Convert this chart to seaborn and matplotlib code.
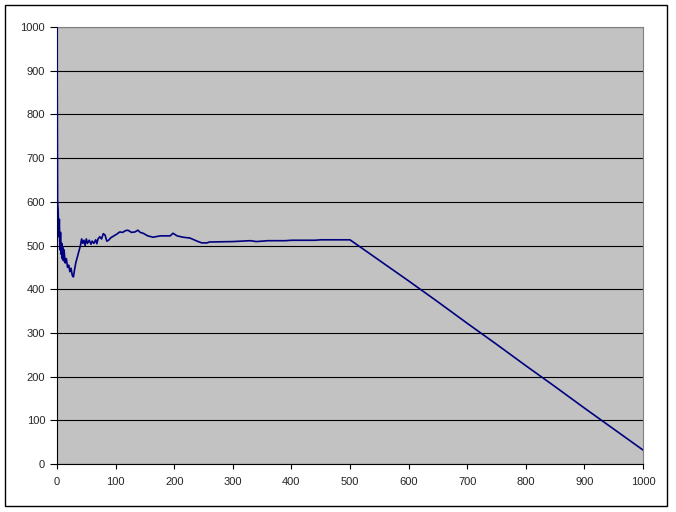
import pandas as pd
import seaborn as sns
import matplotlib.pyplot as plt
from matplotlib.patches import Rectangle

# values
x_vals = [0, 1, 2, 3, 4, 5, 6, 7, 8, 9, 10, 11, 12, 14, 16, 18, 20, 22, 24, 26,
          28, 30, 32, 34, 36, 38, 40, 42, 44, 46, 48, 50, 52, 55, 58, 60, 63, 66,
          68, 70, 73, 76, 79, 82, 85, 88, 92, 97, 102, 107, 112, 117, 121, 127,
          133, 138, 142, 147, 155, 164, 176, 193, 198, 205, 215, 227, 239, 247,
          256, 260, 300, 330, 340, 360, 390, 400, 440, 450, 485, 500,
          550, 600, 650, 700, 750, 800, 850, 900, 950, 1000]
y_vals = [1000, 600, 580, 520, 560, 490, 530, 480, 505, 470, 495, 465, 490, 460,
          470, 450, 455, 440, 448, 432, 428, 445, 460, 470, 480, 490, 500, 515,
          505, 512, 500, 515, 505, 512, 503, 510, 505, 513, 504, 515, 520, 515,
          527, 524, 510, 512, 518, 522, 526, 531, 530, 534, 535, 530, 531, 535,
          530, 528, 522, 519, 522, 522, 528, 522, 519, 517, 510, 506, 506, 508,
          509, 511, 509, 511, 511, 512, 512, 513, 513, 513,
          466, 419, 371, 322, 274, 225, 177, 128, 80, 32]

df = pd.DataFrame({"x": x_vals, "y": y_vals})

sns.set_style("white")
plt.rcParams["font.family"] = ["Liberation Sans", "DejaVu Sans"]

fig = plt.figure(figsize=(6.76, 5.12), dpi=100)
ax = fig.add_axes([57 / 676, 1 - 464 / 512, 586 / 676, 437 / 512])
ax.set_facecolor("#c2c2c2")

sns.lineplot(data=df, x="x", y="y", ax=ax, color="#000080", linewidth=1.2, zorder=3)

ax.set_xlim(0, 1000)
ax.set_ylim(0, 1000)
ax.set_xticks(range(0, 1001, 100))
ax.set_yticks(range(0, 1001, 100))
ax.set_xlabel("")
ax.set_ylabel("")
ax.yaxis.grid(True, color="black", linewidth=0.8)
ax.xaxis.grid(False)
ax.set_axisbelow(True)

ax.tick_params(axis="x", direction="out", length=3.5, width=0.8, pad=6,
               labelsize=8, bottom=True, color="black")
ax.tick_params(axis="y", direction="out", length=5, width=0.8, pad=3.5,
               labelsize=8, left=True, color="black")

for side in ["left", "bottom"]:
    ax.spines[side].set_color("black")
    ax.spines[side].set_linewidth(0.8)
for side in ["top", "right"]:
    ax.spines[side].set_color("#808080")
    ax.spines[side].set_linewidth(0.8)

# outer chart border
fig.patches.append(Rectangle((5 / 676, 1 - 506 / 512), 662 / 676, 501 / 512,
                             transform=fig.transFigure, fill=False,
                             edgecolor="black", linewidth=1.0))

fig.savefig("out.png", dpi=100)
